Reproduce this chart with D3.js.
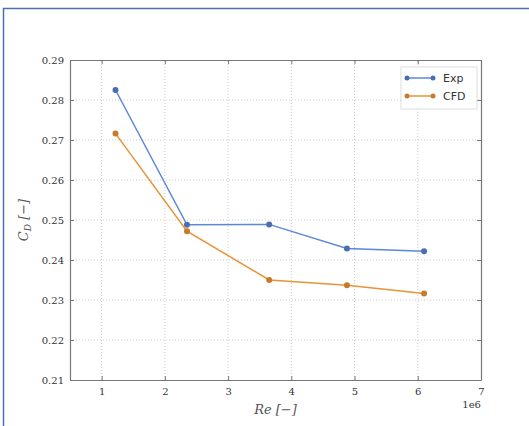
<!DOCTYPE html>
<meta charset="utf-8">
<style>
  body { margin: 0; background: #fff; }
  svg { display: block; }
  .tick text { font: 10px "DejaVu Serif", serif; fill: #333; }
  .label { font: italic 13px "DejaVu Serif", serif; fill: #555; }
</style>
<div id="chart"></div>
<script src="https://cdn.jsdelivr.net/npm/d3@7"></script>
<script>
  const reynolds = [1.22, 2.35, 3.65, 4.88, 6.1];
  const expCd = [0.2825, 0.2488, 0.2489, 0.2429, 0.2422];
  const cfdCd = [0.2716, 0.2472, 0.2350, 0.2337, 0.2316];
  const xTicks = [1, 2, 3, 4, 5, 6, 7];
  const yTicks = [0.21, 0.22, 0.23, 0.24, 0.25, 0.26, 0.27, 0.28, 0.29];
  const seriesNames = ["Exp", "CFD"];
  const seriesColors = ["#5b88d8", "#e89436"];
  const markerColors = ["#4a6fb0", "#c97a28"];

  const width = 529, height = 426;
  const margin = {top: 60, right: 48, bottom: 46, left: 70};

  const x = d3.scaleLinear().domain([0.5, 7]).range([margin.left, width - margin.right]);
  const y = d3.scaleLinear().domain([0.21, 0.29]).range([height - margin.bottom, margin.top]);

  const svg = d3.select("#chart").append("svg")
      .attr("width", width).attr("height", height);

  // outer frame (top + left edge only visible)
  svg.append("path")
      .attr("d", `M3.5,${height} V8.5 H${width}`)
      .attr("fill", "none").attr("stroke", "#4d70ab").attr("stroke-width", 1.5);

  // grid
  svg.append("g").selectAll("line").data(xTicks.slice(0, -1)).join("line")
      .attr("x1", d => x(d)).attr("x2", d => x(d))
      .attr("y1", y(0.21)).attr("y2", y(0.29))
      .attr("stroke", "#ccc").attr("stroke-dasharray", "1,2");
  svg.append("g").selectAll("line").data(yTicks.slice(1, -1)).join("line")
      .attr("x1", x(0.5)).attr("x2", x(7))
      .attr("y1", d => y(d)).attr("y2", d => y(d))
      .attr("stroke", "#ccc").attr("stroke-dasharray", "1,2");

  // axes
  const xAxis = svg.append("g")
      .attr("transform", `translate(0,${y(0.21)})`)
      .call(d3.axisBottom(x).tickValues(xTicks).tickFormat(d3.format("d")).tickSizeInner(-4).tickSizeOuter(0).tickPadding(8));
  svg.append("g")
      .attr("transform", `translate(0,${y(0.29)})`)
      .call(d3.axisTop(x).tickValues(xTicks).tickFormat("").tickSizeInner(-4).tickSizeOuter(0));
  svg.append("g")
      .attr("transform", `translate(${x(0.5)},0)`)
      .call(d3.axisLeft(y).tickValues(yTicks).tickFormat(d3.format(".2f")).tickSizeInner(-4).tickSizeOuter(0).tickPadding(6));
  svg.append("g")
      .attr("transform", `translate(${x(7)},0)`)
      .call(d3.axisRight(y).tickValues(yTicks).tickFormat("").tickSizeInner(-4).tickSizeOuter(0));
  svg.selectAll(".domain").attr("stroke", "#777").attr("stroke-width", 1.2);
  svg.selectAll(".tick line").attr("stroke", "#777");

  // series
  const series = [expCd, cfdCd];
  const line = d3.line().x((d, i) => x(reynolds[i])).y(d => y(d));
  series.forEach((vals, k) => {
    svg.append("path").datum(vals)
        .attr("d", line).attr("fill", "none")
        .attr("stroke", seriesColors[k]).attr("stroke-width", 1.5);
    svg.append("g").selectAll("circle").data(vals).join("circle")
        .attr("cx", (d, i) => x(reynolds[i])).attr("cy", d => y(d))
        .attr("r", 3).attr("fill", markerColors[k]);
  });

  // labels
  svg.append("text").attr("class", "label")
      .attr("x", (x(0.5) + x(7)) / 2).attr("y", 414)
      .attr("text-anchor", "middle").text("Re [−]");
  svg.append("text").attr("class", "label")
      .attr("transform", `translate(28,${(y(0.21) + y(0.29)) / 2}) rotate(-90)`)
      .attr("text-anchor", "middle")
      .html('C<tspan dy="3" font-size="9">D</tspan><tspan dy="-3"> [−]</tspan>');
  svg.append("text")
      .attr("x", x(7)).attr("y", 408)
      .attr("text-anchor", "end")
      .style("font", "10px 'DejaVu Serif', serif").attr("fill", "#333")
      .text("1e6");

  // legend
  const lg = svg.append("g").attr("transform", "translate(401,67)");
  lg.append("rect").attr("width", 76).attr("height", 42)
      .attr("fill", "#fff").attr("stroke", "#ddd");
  seriesNames.forEach((name, k) => {
    const yy = 11 + k * 18;
    lg.append("line").attr("x1", 6).attr("x2", 32).attr("y1", yy).attr("y2", yy)
        .attr("stroke", seriesColors[k]).attr("stroke-width", 1.5);
    lg.append("circle").attr("cx", 6).attr("cy", yy).attr("r", 2.5).attr("fill", markerColors[k]);
    lg.append("circle").attr("cx", 32).attr("cy", yy).attr("r", 2.5).attr("fill", markerColors[k]);
    lg.append("text").attr("x", 42).attr("y", yy + 4)
        .style("font", "11px 'DejaVu Sans', sans-serif").attr("fill", "#333")
        .text(name);
  });
</script>
